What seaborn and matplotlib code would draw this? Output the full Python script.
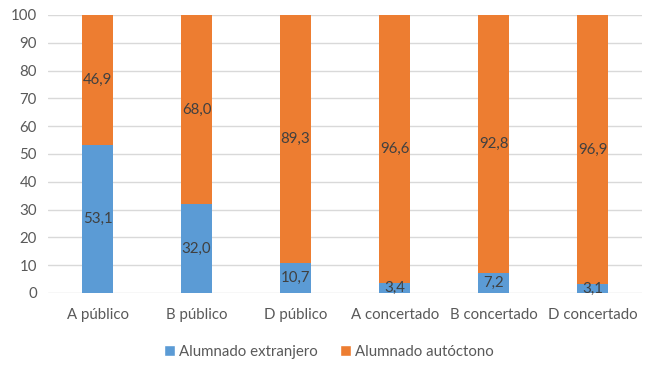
import matplotlib
matplotlib.use("Agg")
import matplotlib.pyplot as plt
import seaborn as sns
import pandas as pd
from matplotlib.patches import Patch

categories = ["A público", "B público", "D público", "A concertado", "B concertado", "D concertado"]
extranjero = [53.1, 32.0, 10.7, 3.4, 7.2, 3.1]
autoctono = [46.9, 68.0, 89.3, 96.6, 92.8, 96.9]
series_names = ["Alumnado extranjero", "Alumnado autóctono"]
yticks = list(range(0, 101, 10))

BLUE = "#5B9BD5"
ORANGE = "#ED7D31"
TXT = "#404040"
TICK = "#595959"
FS = 10.8

sns.set_style("white")
plt.rcParams["font.family"] = ["Lato", "DejaVu Sans"]

df = pd.DataFrame({"cat": categories, "ext": extranjero, "aut": autoctono})
df["total"] = df["ext"] + df["aut"]

fig = plt.figure(figsize=(6.58, 3.75), dpi=100)
ax = fig.add_axes([0.073, 0.219, 0.903, 0.741])

sns.barplot(data=df, x="cat", y="total", color=ORANGE, width=0.31, ax=ax,
            saturation=1, linewidth=0, zorder=2)
sns.barplot(data=df, x="cat", y="ext", color=BLUE, width=0.31, ax=ax,
            saturation=1, linewidth=0, zorder=3)

def fmt(v):
    return f"{v:.1f}".replace(".", ",")

for i, (e, a) in enumerate(zip(extranjero, autoctono)):
    ax.text(i, e / 2, fmt(e), ha="center", va="center", fontsize=FS, color=TXT, zorder=4)
    ax.text(i, e + a / 2, fmt(a), ha="center", va="center", fontsize=FS, color=TXT, zorder=4)

ax.set_ylim(0, 100)
ax.set_xlim(-0.5, len(categories) - 0.5)
ax.set_yticks(yticks)
ax.yaxis.grid(True, color="#D9D9D9", linewidth=1, zorder=0)
ax.set_axisbelow(True)
for s in ax.spines.values():
    s.set_visible(False)
ax.tick_params(axis="both", length=0, labelsize=FS, colors=TICK)
ax.tick_params(axis="x", pad=11)
ax.tick_params(axis="y", pad=8)
ax.set_xlabel("")
ax.set_ylabel("")

handles = [Patch(facecolor=BLUE, label=series_names[0]),
           Patch(facecolor=ORANGE, label=series_names[1])]
fig.legend(handles=handles, loc="center", bbox_to_anchor=(0.5, 0.062), ncol=2,
           frameon=False, fontsize=FS, labelcolor=TICK, handlelength=0.7,
           handleheight=0.7, handletextpad=0.3, columnspacing=1.5)

fig.savefig("out.png", dpi=100)
